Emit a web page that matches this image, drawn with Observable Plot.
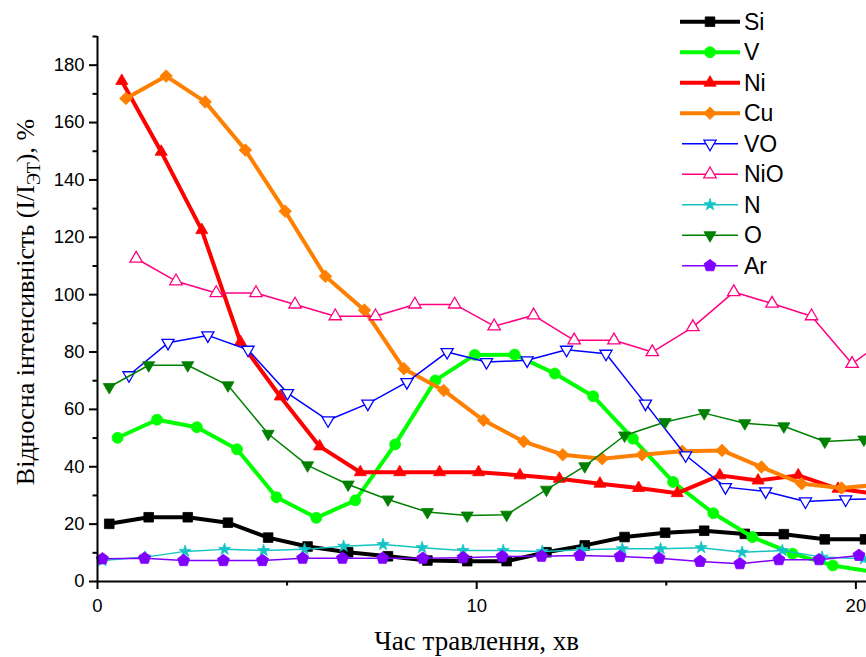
<!DOCTYPE html>
<html>
<head>
<meta charset="utf-8">
<script src="https://cdn.jsdelivr.net/npm/d3@7"></script>
<script src="https://cdn.jsdelivr.net/npm/@observablehq/plot@0.6"></script>
<style>
  html, body { margin: 0; padding: 0; background: #fff; overflow: hidden; }
  #wrap { position: relative; width: 866px; height: 657px; }
  #wrap svg { overflow: hidden; }
  #legend { position: absolute; left: 0; top: 0; }
</style>
</head>
<body>
<div id="wrap"><div id="chart"></div><svg id="legend" width="866" height="290"></svg></div>
<script>
// ---- data ----
const seriesNames = ["Si", "V", "Ni", "Cu", "VO", "NiO", "N", "O", "Ar"];

const Si_x = [0.31,1.35,2.38,3.44,4.50,5.54,6.61,7.66,8.70,9.75,10.79,11.84,12.85,13.90,14.97,16.00,17.07,18.10,19.18,20.24];
const Si_y = [20.1,22.4,22.4,20.5,15.3,12.2,10.2,8.8,7.3,7.1,7.1,10.2,12.6,15.5,17.0,17.7,16.6,16.5,14.7,14.7];

const V_x = [0.53,1.57,2.62,3.68,4.72,5.77,6.80,7.85,8.91,9.95,11.00,12.06,13.07,14.12,15.18,16.24,17.27,18.33,19.39,20.45];
const V_y = [50.1,56.4,53.8,46.1,29.4,22.2,28.3,47.8,70.1,79.0,79.1,72.5,64.6,49.8,34.7,23.8,15.5,9.7,5.6,3.4];

const Ni_x = [0.64,1.68,2.75,3.77,4.82,5.86,6.93,7.97,9.02,10.05,11.14,12.18,13.25,14.27,15.29,16.41,17.42,18.48,19.53,20.58];
const Ni_y = [174.5,149.8,122.5,83.5,64.5,47.1,38.1,38.1,38.1,38.1,37.0,35.8,34.1,32.6,30.8,37.0,35.2,37.0,32.3,30.5];

const Cu_x = [0.75,1.81,2.84,3.90,4.95,6.01,7.04,8.08,9.13,10.18,11.24,12.27,13.31,14.36,15.42,16.47,17.51,18.57,19.62,20.67];
const Cu_y = [168.4,176.2,167.2,150.4,129.1,106.4,94.6,74.2,66.6,56.2,48.8,44.2,42.8,44.2,45.4,45.7,39.9,34.1,32.6,33.8];

const VO_x = [0.83,1.86,2.91,3.97,5.01,6.08,7.13,8.16,9.22,10.26,11.33,12.37,13.41,14.45,15.51,16.56,17.62,18.67,19.73,20.78];
const VO_y = [71.9,83.2,85.8,80.8,65.7,56.2,62.0,69.5,80.0,76.5,77.1,80.8,79.4,62.0,44.0,32.9,31.4,27.9,28.6,29.0];

const NiO_x = [1.02,2.07,3.13,4.18,5.21,6.27,7.33,8.37,9.42,10.46,11.50,12.57,13.62,14.63,15.70,16.78,17.79,18.83,19.90,20.95];
const NiO_y = [112.6,104.7,100.6,100.6,96.6,92.5,92.5,96.6,96.6,89.0,92.8,84.1,84.1,80.0,88.7,100.9,96.9,92.5,75.9,86.0];

const N_x = [0.13,1.26,2.31,3.35,4.38,5.46,6.49,7.53,8.56,9.64,10.70,11.73,12.78,13.84,14.85,15.92,17.00,18.06,19.11,20.21];
const N_y = [7.3,8.5,10.5,11.2,10.8,11.2,12.3,12.9,11.8,10.8,10.8,10.5,11.1,11.4,11.4,11.8,10.2,10.8,8.5,7.9];

const O_x = [0.31,1.35,2.38,3.44,4.50,5.54,6.61,7.66,8.70,9.75,10.79,11.84,12.85,13.90,14.97,16.00,17.07,18.10,19.18,20.21];
const O_y = [67.8,75.4,75.4,68.4,51.5,40.5,33.8,28.6,24.2,23.0,23.3,32.0,40.2,50.9,55.6,58.7,55.2,54.1,48.8,49.5];

const Ar_x = [0.13,1.24,2.27,3.32,4.35,5.41,6.46,7.52,8.58,9.64,10.67,11.71,12.72,13.78,14.81,15.89,16.94,17.97,19.03,20.08];
const Ar_y = [7.9,8.1,7.3,7.3,7.3,8.1,8.1,8.1,8.1,8.3,8.7,8.8,9.1,8.7,8.1,7.0,6.2,7.6,7.6,9.1];

const xTicksMajor = [0, 10, 20];
const xTicksMinor = [5, 15];
const yTicksMajor = [0, 20, 40, 60, 80, 100, 120, 140, 160, 180];
const yTicksMinor = [10, 30, 50, 70, 90, 110, 130, 150, 170, 190];

const xLabel = "Час травлення, хв";
const yLabelMain = "Відносна інтенсивність (I/I";
const yLabelSub = "ЭТ";
const yLabelEnd = "), %";

// ---- symbols ----
function polygon(n, startDeg) {
  return {
    draw(ctx, size) {
      const R = Math.sqrt(size / Math.PI);
      for (let i = 0; i < n; i++) {
        const a = (startDeg + i * 360 / n) * Math.PI / 180;
        const px = R * Math.cos(a), py = R * Math.sin(a);
        if (i === 0) ctx.moveTo(px, py); else ctx.lineTo(px, py);
      }
      ctx.closePath();
    }
  };
}
const symSquare = polygon(4, 45);
const symTriUp = polygon(3, -90);
const symTriDown = polygon(3, 90);
const symDiamond = polygon(4, -90);
const symPentagon = polygon(5, -90);
const symCircle = d3.symbolCircle;
const symStar = d3.symbolStar;

// ---- styles per series ----
const styles = {
  Si:  {x: Si_x,  y: Si_y,  color: "#000000", width: 4,   symbol: symSquare,   r: 6.8, fill: "#000000"},
  V:   {x: V_x,   y: V_y,   color: "#00FF00", width: 4,   symbol: symCircle,   r: 5.5, fill: "#00FF00"},
  Ni:  {x: Ni_x,  y: Ni_y,  color: "#FF0000", width: 4,   symbol: symTriUp,    r: 7.0, fill: "#FF0000"},
  Cu:  {x: Cu_x,  y: Cu_y,  color: "#FF8000", width: 4,   symbol: symDiamond,  r: 6.3, fill: "#FF8000"},
  VO:  {x: VO_x,  y: VO_y,  color: "#0000FF", width: 1.5, symbol: symTriDown,  r: 7.0, fill: "#FFFFFF"},
  NiO: {x: NiO_x, y: NiO_y, color: "#FF0080", width: 1.5, symbol: symTriUp,    r: 7.2, fill: "#FFFFFF"},
  N:   {x: N_x,   y: N_y,   color: "#14C4C4", width: 1.5, symbol: symStar,     r: 3.8, fill: "#14C4C4"},
  O:   {x: O_x,   y: O_y,   color: "#008000", width: 1.5, symbol: symTriDown,  r: 7.0, fill: "#008000"},
  Ar:  {x: Ar_x,  y: Ar_y,  color: "#8000FF", width: 1.5, symbol: symPentagon, r: 6.3, fill: "#8000FF"}
};

const seriesMarks = [];
for (const name of seriesNames) {
  const s = styles[name];
  const data = s.x.map((xv, i) => ({x: xv, y: s.y[i]}));
  seriesMarks.push(Plot.line(data, {x: "x", y: "y", stroke: s.color, strokeWidth: s.width, strokeLinejoin: "round"}));
  seriesMarks.push(Plot.dot(data, {
    x: "x", y: "y", symbol: s.symbol, r: s.r,
    fill: s.fill, stroke: s.color, strokeWidth: s.fill === "#FFFFFF" ? 1.3 : 0.8
  }));
}

const W = 866, H = 657;
const chart = Plot.plot({
  width: W, height: H,
  marginLeft: 97, marginRight: 0, marginTop: 36, marginBottom: 76,
  x: {domain: [0, 20.28]},
  y: {domain: [0, 190]},
  style: {fontFamily: "'Liberation Sans', Arial, sans-serif", fontSize: "18.5px", color: "#000", background: "#fff"},
  marks: [
    ...seriesMarks,
    Plot.axisY({ticks: yTicksMajor, tickSize: 8, tickPadding: 5, strokeWidth: 2, label: null, fontSize: 18.5}),
    Plot.axisY({ticks: yTicksMinor, tickSize: 4.5, strokeWidth: 2, tickFormat: () => "", label: null}),
    Plot.axisX({ticks: xTicksMajor, tickSize: 8, tickPadding: 9, strokeWidth: 2, label: null, fontSize: 18.5}),
    Plot.axisX({ticks: xTicksMinor, tickSize: 4.5, strokeWidth: 2, tickFormat: () => "", label: null}),
    Plot.ruleX([0], {strokeWidth: 2}),
    Plot.ruleY([0], {strokeWidth: 2})
  ]
});
document.getElementById("chart").appendChild(chart);

// axis titles
const svg = d3.select(chart.tagName.toLowerCase() === "svg" ? chart : chart.querySelector("svg"));
svg.append("text")
  .attr("x", 476.7).attr("y", 650)
  .attr("text-anchor", "middle")
  .attr("font-family", "'Liberation Serif', 'Times New Roman', serif")
  .attr("font-size", 27)
  .attr("fill", "#000")
  .text(xLabel);

const yl = svg.append("text")
  .attr("transform", "translate(34,302) rotate(-90)")
  .attr("text-anchor", "middle")
  .attr("font-family", "'Liberation Serif', 'Times New Roman', serif")
  .attr("font-size", 26)
  .attr("fill", "#000");
yl.append("tspan").text(yLabelMain);
yl.append("tspan").attr("font-size", 18).attr("dy", 6).text(yLabelSub);
yl.append("tspan").attr("dy", -6).text(yLabelEnd);

// legend
const lg = d3.select("#legend");
seriesNames.forEach((name, i) => {
  const s = styles[name];
  const cy = 21.7 + i * 30.5;
  const g = lg.append("g").attr("transform", `translate(0,${cy})`);
  g.append("line").attr("x1", s.width > 2 ? 680 : 682).attr("x2", s.width > 2 ? 740 : 738)
    .attr("y1", 0).attr("y2", 0).attr("stroke", s.color).attr("stroke-width", s.width);
  g.append("path")
    .attr("transform", "translate(710,0)")
    .attr("d", d3.symbol(s.symbol, Math.PI * s.r * s.r)())
    .attr("fill", s.fill).attr("stroke", s.color)
    .attr("stroke-width", s.fill === "#FFFFFF" ? 1.3 : 0.8);
  g.append("text").attr("x", 744).attr("y", 0).attr("dy", "0.36em")
    .attr("font-family", "'Liberation Sans', Arial, sans-serif")
    .attr("font-size", 23).attr("fill", "#000").text(name);
});
</script>
</body>
</html>
